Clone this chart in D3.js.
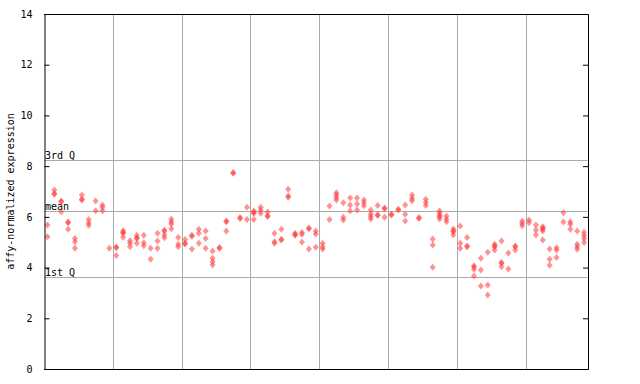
<!DOCTYPE html>
<html><head><meta charset="utf-8">
<script src="https://cdn.jsdelivr.net/npm/d3@7"></script>
<style>body{margin:0;background:#fff}svg{display:block}text{font-family:"DejaVu Sans Mono",monospace}</style>
</head><body>
<script>
// expression values per sample (replicates); near-duplicates render as solid marks
const sampleValues = [
  [5.68,5.22],[7.06,6.89,6.92],[6.60,6.63,6.20],[5.77,5.80,5.51],[5.15,5.02,4.76],
  [6.86,6.66,6.69],[5.90,5.77,5.67],[6.63,6.24],[6.47,6.38,6.24],[4.76],
  [4.78,4.81,4.48],[5.45,5.35,5.38,5.20],[5.06,4.96,4.82],[5.27,5.15,5.18,4.96],[5.27,4.98,4.86],
  [4.76,4.33],[5.35,5.05,4.76],[5.44,5.47,5.28,5.18],[5.92,5.81,5.72,5.53],[5.19,4.92,4.82],
  [5.11,4.93,4.96],[5.24,5.27,4.73],[5.51,5.35,4.96],[5.44,5.15,4.76],[4.65,4.37,4.23,4.10],
  [4.76,4.79],[5.81,5.84,5.44],[7.72,7.75],[5.94,5.97],[6.38,5.90],
  [6.23,6.14,6.17,5.90],[6.38,6.27,6.14],[6.19,6.01,6.04],[5.35,5.02,4.96],[5.51,5.09,5.12],
  [7.09,6.82,6.77],[5.35,5.27,5.30],[5.38,5.31,5.01],[5.53,5.56,4.73],[5.44,5.32,4.80],
  [4.96,4.82,4.73],[6.43,5.90],[6.95,6.86,6.76,6.66],[6.56,5.98,5.88],[6.74,6.47,6.23],
  [6.74,6.51,6.27],[6.66,6.56,6.44],[6.27,6.11,6.01,5.92],[6.45,6.05,6.08],[6.32,6.35,5.98],
  [6.07,6.10],[6.27,6.30],[6.47,6.10,5.84],[6.86,6.73,6.64],[5.94,5.97],
  [6.69,6.57,6.45],[5.13,4.89,4.01],[6.23,6.14,6.01,6.04,5.92],[6.03,5.92,5.81],[5.52,5.41,5.44,5.28],
  [5.64,4.96,4.76],[5.19,4.82,4.85],[4.03,4.06,3.93,3.67],[4.37,3.90,3.27],[4.60,3.31,2.92],
  [4.92,4.82,4.85,4.69],[5.05,4.17,4.20,4.03],[4.57,3.94],[4.82,4.85,4.69],[5.84,5.74,5.65],
  [5.88,5.77],[5.68,5.48,5.28],[5.61,5.52,5.55,5.44,5.09],[4.73,4.33,4.09],[4.78,4.69,4.40],
  [6.16,5.80],[5.81,5.71,5.51],[5.44,4.92,4.82,4.72],[5.39,5.26,5.15,4.99]
];
const yTicks = [0,2,4,6,8,10,12,14];
const refLines = [
  {label:"3rd Q", value:8.24},
  {label:"mean", value:6.23},
  {label:"1st Q", value:3.62}
];
const groupSize = 10;
const yTitle = "affy-normalized expression";

const W = 640, H = 384;
const m = {l:44, r:52.5, t:14, b:15};
const svg = d3.select("body").append("svg").attr("width",W).attr("height",H);
const n = sampleValues.length;
const x = d3.scaleLinear().domain([-0.5, n-0.5]).range([m.l, W-m.r]);
const y = d3.scaleLinear().domain([0,14]).range([H-m.b, m.t]);

// vertical group separators
const seps = d3.range(groupSize-0.5, n-1, groupSize);
svg.append("g").selectAll("line").data(seps).join("line")
  .attr("x1",d=>Math.round(x(d))+0.5).attr("x2",d=>Math.round(x(d))+0.5)
  .attr("y1",y(14)).attr("y2",y(0))
  .attr("stroke","#aaaaaa").attr("stroke-width",1);

// reference lines
const rl = svg.append("g");
rl.selectAll("line").data(refLines).join("line")
  .attr("x1",m.l).attr("x2",W-m.r)
  .attr("y1",d=>Math.round(y(d.value))+0.5).attr("y2",d=>Math.round(y(d.value))+0.5)
  .attr("stroke","#aaaaaa").attr("stroke-width",1);
rl.selectAll("text").data(refLines).join("text")
  .attr("x",m.l+1).attr("y",d=>Math.round(y(d.value))-1.5)
  .attr("font-size",10).attr("fill","#000").text(d=>d.label);

// points
const pts = sampleValues.flatMap((vals,i)=>vals.map(v=>({i,v})));
const diamond = "M0,-3.5L3,0L0,3.5L-3,0Z";
svg.append("g").selectAll("path").data(pts).join("path")
  .attr("d",diamond)
  .attr("transform",d=>`translate(${x(d.i)},${y(d.v)})`)
  .attr("fill","#ff3b3b").attr("fill-opacity",0.55);

// axes
const yAxisL = d3.axisLeft(y).tickValues(yTicks).tickSize(-5).tickPadding(12).tickFormat(d3.format("d"));
const gL = svg.append("g").attr("transform",`translate(${m.l+0.5},0)`).call(yAxisL);
gL.selectAll("text").attr("font-size",10).attr("font-family","DejaVu Sans Mono").attr("fill","#000");
const yAxisR = d3.axisRight(y).tickValues(yTicks).tickSize(-5).tickFormat("");
svg.append("g").attr("transform",`translate(${W-m.r+0.5},0)`).call(yAxisR);
svg.selectAll(".domain").attr("stroke","#000");
svg.selectAll(".tick line").attr("stroke","#000");
// frame top and bottom
svg.append("line").attr("x1",m.l).attr("x2",W-m.r+1).attr("y1",m.t+0.5).attr("y2",m.t+0.5).attr("stroke","#000");
svg.append("line").attr("x1",m.l).attr("x2",W-m.r+1).attr("y1",H-m.b+0.5).attr("y2",H-m.b+0.5).attr("stroke","#000");

svg.append("text")
  .attr("transform",`translate(14,${(m.t+H-m.b)/2}) rotate(-90)`)
  .attr("text-anchor","middle").attr("font-size",10).attr("fill","#000")
  .text(yTitle);
</script>
</body></html>
